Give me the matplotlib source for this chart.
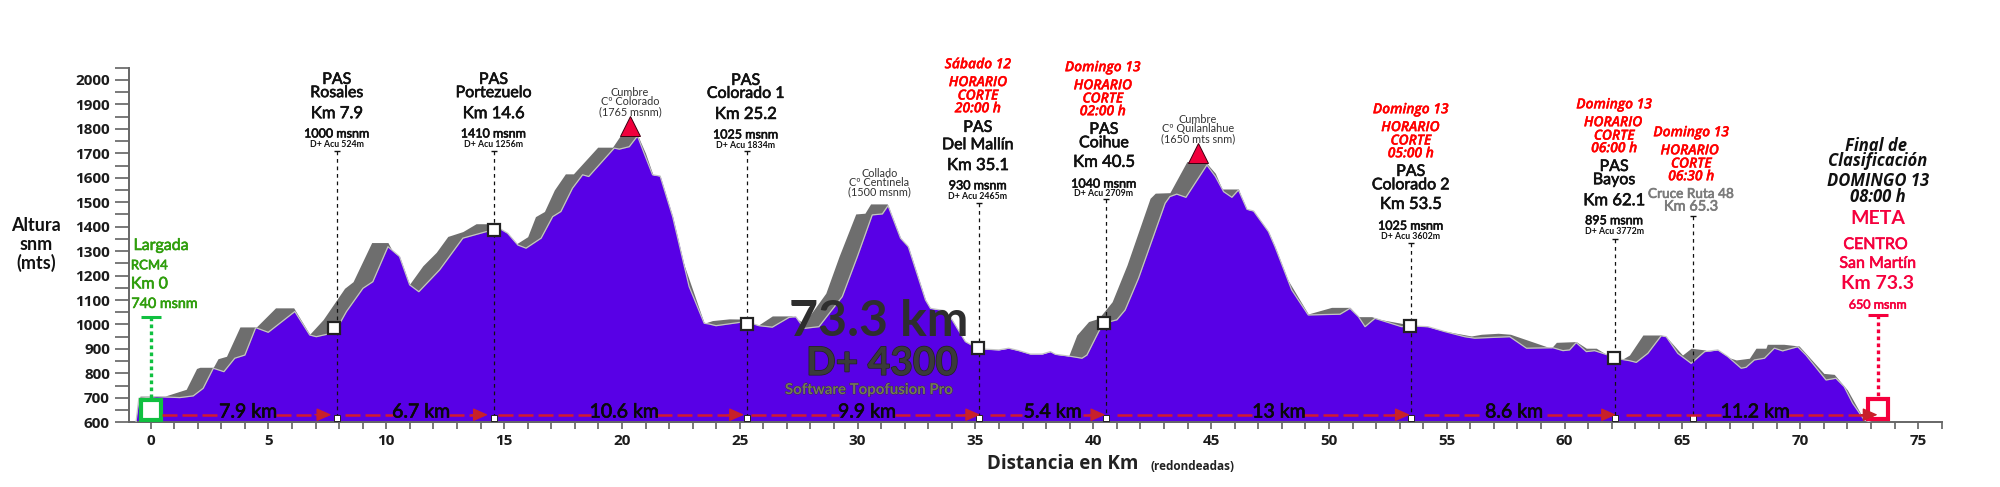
import matplotlib
matplotlib.use("Agg")
import matplotlib.pyplot as plt
from matplotlib.ticker import MultipleLocator
import matplotlib.patheffects as pe

PURPLE = "#5800e6"; GREY = "#6e6e6e"; EDGE = "#c4c4c4"; RED = "#ff0000"; ROSE = "#f5003d"; GREEN = "#2f9e0c"
NARROW = "Lato"; WIDE = "Open Sans"

profile_km = [-0.62,-0.5,0.25,1.24,1.81,2.23,2.66,3.11,3.57,4.0,4.46,4.99,6.12,6.75,7.03,7.81,8.31,9.01,9.43,10.07,10.56,10.99,11.38,12.26,13.25,14.52,
 14.8,15.15,15.58,15.93,16.57,17.06,17.41,17.9,18.33,18.59,19.67,19.89,20.31,20.66,20.94,21.3,21.62,22.15,22.85,23.49,23.7,23.99,25.25,25.82,26.38,27.09,27.37,27.73,28.36,29.35,29.99,30.62,31.05,31.29,31.82,32.15,32.88,33.09,33.66,34.01,34.57,35.0,35.42,
 35.99,36.41,36.84,37.33,37.83,38.18,38.39,38.95,39.52,39.73,40.23,40.44,41.0,41.35,41.92,43.05,43.25,43.54,43.93,44.82,45.18,45.53,45.88,46.16,46.52,46.8,47.43,47.71,48.42,49.12,50.47,50.89,51.25,51.53,51.95,53.08,53.44,54.2,54.91,55.76,56.18,57.18,
 57.67,58.38,59.5,59.93,60.21,60.49,60.92,61.27,61.84,62.12,62.75,63.04,63.53,64.1,64.31,64.8,65.37,65.94,66.5,66.92,67.49,67.7,68.05,68.48,68.9,69.25,69.89,70.24,71.09,71.51,71.86,72.22,72.71,72.99]
profile_m = [600,698,705,701,708,739,821,807,862,875,987,968,1053,957,950,967,1053,1148,1175,1318,1278,1162,1134,1223,1353,1387,
 1393,1373,1325,1312,1353,1441,1462,1557,1612,1605,1721,1717,1727,1771,1700,1612,1607,1441,1155,1005,1002,995,1012,995,989,1029,1032,984,991,1114,1278,1448,1452,1486,1353,1318,1100,1066,1057,1019,930,907,899,
 896,903,893,879,879,889,878,871,862,875,971,1005,1019,1059,1189,1496,1523,1533,1520,1652,1605,1543,1520,1550,1471,1464,1380,1318,1141,1039,1042,1066,1032,991,1025,991,994,991,971,950,944,948,
 950,903,905,893,896,926,889,893,875,862,852,845,882,954,950,882,841,889,896,869,821,825,855,862,903,892,909,875,773,780,746,678,610,600]

shadow_km = [-0.66,-0.45,0.6,1.51,1.95,2.09,2.66,2.86,3.22,3.79,4.49,5.3,6.07,6.75,7.32,8.23,8.59,9.38,10.07,10.99,11.55,12.12,12.61,13.25,13.81,14.38,15.0,15.51,16.0,16.33,16.71,17.13,17.6,17.94,18.97,19.6,19.95,20.66,21.0,
 23.49,23.84,24.55,25.25,25.75,26.38,27.2,27.73,28.65,29.21,29.92,30.31,30.55,31.26,31.4,32.0,33.0,34.0,34.5,38.8,
 38.95,39.3,39.8,40.23,40.8,41.43,42.41,42.63,43.25,43.97,44.75,45.18,45.46,46.16,46.4,
 49.12,50.11,50.89,51.25,51.81,52.2,56.04,56.47,57.18,57.7,59.43,59.65,60.49,60.92,61.34,61.9,
 62.4,62.75,63.32,64.1,64.4,65.0,65.37,65.94,67.28,67.84,68.12,68.54,68.6,69.3,69.95,71.0,71.44,72.0,72.71,72.99]
shadow_m = [600,707,707,735,820,825,825,860,870,990,990,1068,1068,960,1020,1148,1175,1335,1335,1165,1240,1295,1360,1380,1412,1412,1350,1329,1359,1441,1462,1550,1616,1616,1725,1725,1775,1775,1700,
 1005,1016,1023,1022,995,1035,1035,1005,1128,1278,1452,1455,1493,1493,1450,1200,1000,900,860,800,
 870,957,1012,1025,1093,1243,1516,1537,1539,1666,1666,1618,1554,1554,1480,
 1043,1070,1070,1032,1032,1020,953,960,964,960,903,927,930,903,903,870,
 855,875,957,957,940,875,903,896,855,862,903,903,919,919,912,800,796,732,610,600]

aid_km = [7.8,14.55,25.3,35.1,40.45,53.45,62.1]
aid_m = [984,1385,1000,902,1005,995,862]
leader_km = [7.9,14.55,25.3,35.15,40.55,53.5,62.15,65.45]
leader_top = [1710,1710,1710,1498,1512,1332,1348,1445]
summit_km = [20.34,44.43]
summit_m = [1812,1700]

seg_start = [0.49,8.23,14.73,25.47,35.63,41.0,54.04,62.61]
seg_end = [7.67,14.31,25.18,35.2,40.51,53.43,62.18,73.28]
seg_mid = [4.14,11.48,20.1,30.4,38.28,47.88,57.86,68.09]
seg_half = [1.2,1.2,1.4,1.2,1.3,1.0,1.4,1.4]
seg_text = ["7.9 km","6.7 km","10.6 km","9.9 km","5.4 km","13 km","8.6 km","11.2 km"]

# (km, metres, text, colour, size, family, weight, style)
labels = [
 (7.9,2000,"PAS","#111",11.5,NARROW,"normal","normal"),(7.9,1946,"Rosales","#111",11.5,NARROW,"normal","normal"),(7.9,1864,"Km 7.9","#111",12,NARROW,"normal","normal"),(7.9,1781,"1000 msnm","#111",9,NARROW,"normal","normal"),(7.9,1736,"D+ Acu 524m","#111",6.3,NARROW,"bold","normal"),
 (14.55,2000,"PAS","#111",11.5,NARROW,"normal","normal"),(14.55,1946,"Portezuelo","#111",11.5,NARROW,"normal","normal"),(14.55,1864,"Km 14.6","#111",12,NARROW,"normal","normal"),(14.55,1781,"1410 msnm","#111",9,NARROW,"normal","normal"),(14.55,1736,"D+ Acu 1256m","#111",6.3,NARROW,"bold","normal"),
 (25.25,1996,"PAS","#111",11.5,NARROW,"normal","normal"),(25.25,1943,"Colorado 1","#111",11.5,NARROW,"normal","normal"),(25.25,1861,"Km 25.2","#111",12,NARROW,"normal","normal"),(25.25,1777,"1025 msnm","#111",9,NARROW,"normal","normal"),(25.25,1732,"D+ Acu 1834m","#111",6.3,NARROW,"bold","normal"),
 (35.1,2064,"Sábado 12",RED,10,WIDE,"semibold","italic"),(35.1,1991,"HORARIO",RED,10,WIDE,"semibold","italic"),(35.1,1936,"CORTE",RED,10,WIDE,"semibold","italic"),(35.1,1884,"20:00 h",RED,10,WIDE,"semibold","italic"),(35.1,1804,"PAS","#111",11.5,NARROW,"normal","normal"),(35.1,1733,"Del Mallín","#111",11.5,NARROW,"normal","normal"),(35.1,1652,"Km 35.1","#111",12,NARROW,"normal","normal"),(35.1,1569,"930 msnm","#111",9,NARROW,"normal","normal"),(35.1,1524,"D+ Acu 2465m","#111",6.3,NARROW,"bold","normal"),
 (40.4,2052,"Domingo 13",RED,10,WIDE,"semibold","italic"),(40.4,1978,"HORARIO",RED,10,WIDE,"semibold","italic"),(40.4,1924,"CORTE",RED,10,WIDE,"semibold","italic"),(40.4,1872,"02:00 h",RED,10,WIDE,"semibold","italic"),(40.45,1796,"PAS","#111",11.5,NARROW,"normal","normal"),(40.45,1741,"Coihue","#111",11.5,NARROW,"normal","normal"),(40.45,1665,"Km 40.5","#111",12,NARROW,"normal","normal"),(40.45,1576,"1040 msnm","#111",9,NARROW,"normal","normal"),(40.45,1535,"D+ Acu 2709m","#111",6.3,NARROW,"bold","normal"),
 (53.47,1880,"Domingo 13",RED,10,WIDE,"semibold","italic"),(53.45,1807,"HORARIO",RED,10,WIDE,"semibold","italic"),(53.47,1752,"CORTE",RED,10,WIDE,"semibold","italic"),(53.47,1700,"05:00 h",RED,10,WIDE,"semibold","italic"),(53.47,1624,"PAS","#111",11.5,NARROW,"normal","normal"),(53.47,1569,"Colorado 2","#111",11.5,NARROW,"normal","normal"),(53.47,1493,"Km 53.5","#111",12,NARROW,"normal","normal"),(53.47,1404,"1025 msnm","#111",9,NARROW,"normal","normal"),(53.47,1359,"D+ Acu 3602m","#111",6.3,NARROW,"bold","normal"),
 (62.1,1900,"Domingo 13",RED,10,WIDE,"semibold","italic"),(62.05,1827,"HORARIO",RED,10,WIDE,"semibold","italic"),(62.1,1772,"CORTE",RED,10,WIDE,"semibold","italic"),(62.1,1721,"06:00 h",RED,10,WIDE,"semibold","italic"),(62.1,1644,"PAS","#111",11.5,NARROW,"normal","normal"),(62.1,1590,"Bayos","#111",11.5,NARROW,"normal","normal"),(62.1,1508,"Km 62.1","#111",12,NARROW,"normal","normal"),(62.1,1426,"895 msnm","#111",9,NARROW,"normal","normal"),(62.1,1380,"D+ Acu 3772m","#111",6.3,NARROW,"bold","normal"),
 (65.37,1786,"Domingo 13",RED,10,WIDE,"semibold","italic"),(65.3,1712,"HORARIO",RED,10,WIDE,"semibold","italic"),(65.37,1658,"CORTE",RED,10,WIDE,"semibold","italic"),(65.37,1606,"06:30 h",RED,10,WIDE,"semibold","italic"),(65.37,1534,"Cruce Ruta 48","#7b7b7b",9.8,NARROW,"normal","normal"),(65.37,1482,"Km 65.3","#7b7b7b",10.5,NARROW,"normal","normal"),
 (73.2,1729,"Final de","#111",12,WIDE,"bold","italic"),(73.29,1667,"Clasificación","#111",12,WIDE,"bold","italic"),(73.29,1586,"DOMINGO 13","#111",12,WIDE,"bold","italic"),(73.29,1520,"08:00 h","#111",12,WIDE,"bold","italic"),
 (73.29,1434,"META",ROSE,14,NARROW,"bold","normal"),(73.2,1325,"CENTRO",ROSE,11.5,NARROW,"normal","normal"),(73.29,1248,"San Martín",ROSE,11.5,NARROW,"normal","normal"),(73.29,1168,"Km 73.3",ROSE,14,NARROW,"bold","normal"),(73.29,1081,"650 msnm",ROSE,9,NARROW,"normal","normal"),
 (0.45,1321,"Largada",GREEN,11.5,NARROW,"normal","normal"),(-0.05,1242,"RCM4",GREEN,9.5,NARROW,"normal","normal"),(-0.05,1164,"Km 0",GREEN,11.5,NARROW,"normal","normal"),(0.58,1084,"740 msnm",GREEN,10.3,NARROW,"normal","normal"),
 (20.34,1948,"Cumbre","#333",7.8,NARROW,"normal","normal"),(20.34,1910,"Cº Colorado","#333",7.8,NARROW,"normal","normal"),(20.34,1869,"(1765 msnm)","#333",7.8,NARROW,"normal","normal"),
 (30.93,1618,"Collado","#333",7.8,NARROW,"normal","normal"),(30.93,1580,"Cº Centinela","#333",7.8,NARROW,"normal","normal"),(30.93,1542,"(1500 msnm)","#333",7.8,NARROW,"normal","normal"),
 (44.43,1839,"Cumbre","#333",7.8,NARROW,"normal","normal"),(44.43,1800,"Cº Quilanlahue","#333",7.8,NARROW,"normal","normal"),(44.43,1759,"(1650 mts snm)","#333",7.8,NARROW,"normal","normal"),
 (-4.86,1403,"Altura","#111",13,NARROW,"bold","normal"),(-4.86,1327,"snm","#111",13,NARROW,"bold","normal"),(-4.86,1250,"(mts)","#111",13,NARROW,"bold","normal"),
 (38.7,430,"Distancia en Km","#222",13.5,WIDE,"bold","normal"),(44.22,419,"(redondeadas)","#222",8.5,WIDE,"bold","normal"),
]

fig = plt.figure(figsize=(20, 4.87), dpi=100)
ax = fig.add_axes([128.7/2000, 64.7/487, (1941.7-128.7)/2000, (422.3-67.7)/487])
ax.set_xlim(-0.93, 76)
ax.set_ylim(600, 2050)

ax.fill_between(shadow_km, shadow_m, 600, color=GREY, lw=0, zorder=1)
ax.fill_between(profile_km, profile_m, 600, color=PURPLE, lw=0, zorder=2)
ax.plot(profile_km, profile_m, color=EDGE, lw=0.9, zorder=3)

for s in ("top", "right"):
    ax.spines[s].set_visible(False)
for s in ("left", "bottom"):
    ax.spines[s].set_color("#666666")
    ax.spines[s].set_linewidth(1.4)

ax.yaxis.set_major_locator(MultipleLocator(100))
ax.yaxis.set_minor_locator(MultipleLocator(50))
ax.xaxis.set_major_locator(MultipleLocator(5))
ax.xaxis.set_minor_locator(MultipleLocator(1))
ax.tick_params(axis="y", which="both", length=10, width=1.1, color="#555555", pad=3.5)
ax.tick_params(axis="x", which="both", length=5, width=1.1, color="#555555", pad=3.5)
for t in ax.get_xticklabels() + ax.get_yticklabels():
    t.set_fontfamily(WIDE); t.set_fontweight("bold"); t.set_fontsize(11); t.set_color("#1c1c1c")

for x, top in zip(leader_km, leader_top):
    ax.plot([x, x], [top, 618], color="#111", lw=0.9, ls=(0, (3, 3)), zorder=5)
    ax.plot([x], [top], marker="_", ms=5, mew=1, color="#111", zorder=5)

ax.plot(aid_km, aid_m, ls="none", marker="s", ms=8.5, mfc="white", mec="#222222", mew=1.6, zorder=7)
ax.plot(leader_km, [618]*len(leader_km), ls="none", marker="s", ms=5, mfc="white", mec="#222222", mew=0.7, zorder=7)
ax.plot(summit_km, summit_m, ls="none", marker="^", ms=14, mfc="#f0003c", mec="#3a0010", mew=0.7, zorder=7, clip_on=False)

ax.plot([0, 0], [1032, 690], color="#10c040", lw=2.4, ls=(0, (1.1, 1)), zorder=5)
ax.plot([0], [1032], marker="_", ms=15, mew=2.2, color="#10c040", zorder=5)
ax.plot([0], [650], marker="s", ms=14, mfc="white", mec="#10c040", mew=3, zorder=6)
ax.plot([73.3, 73.3], [1039, 690], color=ROSE, lw=2.4, ls=(0, (1.1, 1)), zorder=5)
ax.plot([73.3], [1039], marker="_", ms=15, mew=2.2, color=ROSE, zorder=5)
ax.plot([73.3], [653], marker="s", ms=14, mfc="white", mec=ROSE, mew=3, zorder=6)

for a, b, m, h, t in zip(seg_start, seg_end, seg_mid, seg_half, seg_text):
    ax.plot([a, m-h], [631, 631], color="#d21a30", lw=1.8, ls=(0, (6, 2)), zorder=8)
    ax.plot([m+h, b-0.2], [631, 631], color="#d21a30", lw=1.8, ls=(0, (6, 2)), zorder=8)
    ax.annotate("", xy=(b, 631), xytext=(b-0.7, 631), zorder=9,
                arrowprops=dict(arrowstyle="-|>,head_length=0.9,head_width=0.4", color="#c8202a", lw=1, shrinkA=0, shrinkB=0))
    ax.text(m, 642, t, ha="center", va="center", family=NARROW, fontsize=14, color="#0a0a0a", zorder=10,
            path_effects=[pe.withStroke(linewidth=0.5, foreground="#0a0a0a")])

for x, y, t, c, fs, fam, w, st in labels:
    txt = ax.text(x, y, t, ha="center", va="center", color=c, fontsize=fs, family=fam, fontweight=w, fontstyle=st, clip_on=False, zorder=10)
    if fam == NARROW and w == "normal" and fs > 8:
        txt.set_path_effects([pe.withStroke(linewidth=0.45, foreground=c)])
    if fam == WIDE and st == "italic" and c == RED:
        txt.set_path_effects([pe.withStroke(linewidth=0.25, foreground=c)])

ax.text(30.9, 1012, "73.3 km", ha="center", va="center", family=NARROW, fontsize=36, fontweight="bold", color="#2e2e2e", zorder=10)
ax.text(31.04, 841, "D+ 4300", ha="center", va="center", family=NARROW, fontsize=28, fontweight="bold", color="#3a3a3a", zorder=10,
        path_effects=[pe.withStroke(linewidth=1, foreground="#222222")])
ax.text(30.48, 732, "Software Topofusion Pro", ha="center", va="center", family=NARROW, fontsize=10.8, fontweight="bold", color="#74745c", zorder=10,
        path_effects=[pe.withStroke(linewidth=0.6, foreground="#333333")])

fig.savefig("out.png", dpi=100)
